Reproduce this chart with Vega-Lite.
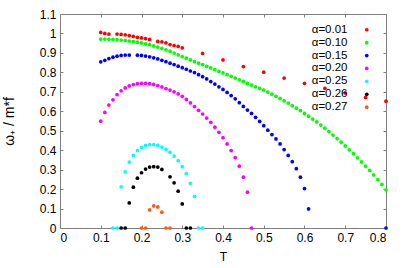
{
 "$schema": "https://vega.github.io/schema/vega-lite/v6.json",
 "width": 326, "height": 214,
 "autosize": "none",
 "padding": {"left": 60, "top": 14, "right": 23, "bottom": 40},
 "background": "white",
 "config": {
  "view": {"stroke": null},
  "font": "Liberation Sans",
  "axis": {"domainColor": "#808080", "tickColor": "#808080", "tickSize": -3, "labelColor": "#000", "labelFontSize": 12, "labelFont": "Liberation Sans", "grid": false, "titleFont": "Liberation Sans", "titleFontWeight": "normal", "titleFontSize": 12, "titleColor": "#000", "labelPadding": 7},
  "legend": {"orient": "none", "legendX": 301, "legendY": 10, "labelAlign": "right", "labelOffset": -25, "labelFontSize": 11.5, "labelFont": "Liberation Sans", "rowPadding": -0.1, "symbolSize": 14, "symbolType": "circle", "padding": 0, "symbolStrokeWidth": 0}
 },
 "data": {"values": [
  {"alpha":"0.01","T":0.10,"w":1.005},{"alpha":"0.01","T":0.11,"w":1.000},{"alpha":"0.01","T":0.12,"w":0.997},{"alpha":"0.01","T":0.14,"w":0.997},{"alpha":"0.01","T":0.15,"w":0.995},{"alpha":"0.01","T":0.16,"w":0.993},{"alpha":"0.01","T":0.17,"w":0.989},{"alpha":"0.01","T":0.18,"w":0.985},{"alpha":"0.01","T":0.19,"w":0.980},{"alpha":"0.01","T":0.20,"w":0.977},{"alpha":"0.01","T":0.21,"w":0.974},{"alpha":"0.01","T":0.22,"w":0.969},{"alpha":"0.01","T":0.24,"w":0.959},{"alpha":"0.01","T":0.25,"w":0.957},{"alpha":"0.01","T":0.26,"w":0.952},{"alpha":"0.01","T":0.27,"w":0.943},{"alpha":"0.01","T":0.28,"w":0.938},{"alpha":"0.01","T":0.29,"w":0.933},{"alpha":"0.01","T":0.30,"w":0.926},{"alpha":"0.01","T":0.35,"w":0.897},{"alpha":"0.01","T":0.40,"w":0.864},{"alpha":"0.01","T":0.45,"w":0.830},{"alpha":"0.01","T":0.50,"w":0.801},{"alpha":"0.01","T":0.55,"w":0.771},{"alpha":"0.01","T":0.60,"w":0.744},{"alpha":"0.01","T":0.65,"w":0.718},{"alpha":"0.01","T":0.70,"w":0.694},{"alpha":"0.01","T":0.75,"w":0.671},{"alpha":"0.01","T":0.80,"w":0.652},
  {"alpha":"0.10","T":0.10,"w":0.971},{"alpha":"0.10","T":0.11,"w":0.971},{"alpha":"0.10","T":0.12,"w":0.970},{"alpha":"0.10","T":0.13,"w":0.969},{"alpha":"0.10","T":0.14,"w":0.968},{"alpha":"0.10","T":0.15,"w":0.966},{"alpha":"0.10","T":0.16,"w":0.964},{"alpha":"0.10","T":0.17,"w":0.961},{"alpha":"0.10","T":0.18,"w":0.958},{"alpha":"0.10","T":0.19,"w":0.955},{"alpha":"0.10","T":0.20,"w":0.951},{"alpha":"0.10","T":0.21,"w":0.947},{"alpha":"0.10","T":0.22,"w":0.942},{"alpha":"0.10","T":0.23,"w":0.936},{"alpha":"0.10","T":0.24,"w":0.930},{"alpha":"0.10","T":0.25,"w":0.923},{"alpha":"0.10","T":0.26,"w":0.916},{"alpha":"0.10","T":0.27,"w":0.909},{"alpha":"0.10","T":0.28,"w":0.899},{"alpha":"0.10","T":0.29,"w":0.890},{"alpha":"0.10","T":0.30,"w":0.881},{"alpha":"0.10","T":0.31,"w":0.873},{"alpha":"0.10","T":0.32,"w":0.864},{"alpha":"0.10","T":0.33,"w":0.855},{"alpha":"0.10","T":0.34,"w":0.847},{"alpha":"0.10","T":0.35,"w":0.840},{"alpha":"0.10","T":0.36,"w":0.831},{"alpha":"0.10","T":0.37,"w":0.823},{"alpha":"0.10","T":0.38,"w":0.814},{"alpha":"0.10","T":0.39,"w":0.805},{"alpha":"0.10","T":0.40,"w":0.797},{"alpha":"0.10","T":0.41,"w":0.788},{"alpha":"0.10","T":0.42,"w":0.780},{"alpha":"0.10","T":0.43,"w":0.771},{"alpha":"0.10","T":0.44,"w":0.762},{"alpha":"0.10","T":0.45,"w":0.754},{"alpha":"0.10","T":0.46,"w":0.744},{"alpha":"0.10","T":0.47,"w":0.735},{"alpha":"0.10","T":0.48,"w":0.726},{"alpha":"0.10","T":0.49,"w":0.718},{"alpha":"0.10","T":0.50,"w":0.709},{"alpha":"0.10","T":0.51,"w":0.699},{"alpha":"0.10","T":0.52,"w":0.688},{"alpha":"0.10","T":0.53,"w":0.677},{"alpha":"0.10","T":0.54,"w":0.666},{"alpha":"0.10","T":0.55,"w":0.654},{"alpha":"0.10","T":0.56,"w":0.642},{"alpha":"0.10","T":0.57,"w":0.629},{"alpha":"0.10","T":0.58,"w":0.616},{"alpha":"0.10","T":0.59,"w":0.603},{"alpha":"0.10","T":0.60,"w":0.589},{"alpha":"0.10","T":0.61,"w":0.575},{"alpha":"0.10","T":0.62,"w":0.560},{"alpha":"0.10","T":0.63,"w":0.545},{"alpha":"0.10","T":0.64,"w":0.529},{"alpha":"0.10","T":0.65,"w":0.513},{"alpha":"0.10","T":0.66,"w":0.496},{"alpha":"0.10","T":0.67,"w":0.478},{"alpha":"0.10","T":0.68,"w":0.460},{"alpha":"0.10","T":0.69,"w":0.441},{"alpha":"0.10","T":0.70,"w":0.422},{"alpha":"0.10","T":0.71,"w":0.402},{"alpha":"0.10","T":0.72,"w":0.382},{"alpha":"0.10","T":0.73,"w":0.361},{"alpha":"0.10","T":0.74,"w":0.340},{"alpha":"0.10","T":0.75,"w":0.318},{"alpha":"0.10","T":0.76,"w":0.296},{"alpha":"0.10","T":0.77,"w":0.273},{"alpha":"0.10","T":0.78,"w":0.249},{"alpha":"0.10","T":0.79,"w":0.224},{"alpha":"0.10","T":0.80,"w":0.196},
  {"alpha":"0.15","T":0.10,"w":0.854},{"alpha":"0.15","T":0.11,"w":0.862},{"alpha":"0.15","T":0.12,"w":0.871},{"alpha":"0.15","T":0.13,"w":0.878},{"alpha":"0.15","T":0.14,"w":0.883},{"alpha":"0.15","T":0.15,"w":0.887},{"alpha":"0.15","T":0.16,"w":0.889},{"alpha":"0.15","T":0.17,"w":0.889},{"alpha":"0.15","T":0.19,"w":0.888},{"alpha":"0.15","T":0.20,"w":0.887},{"alpha":"0.15","T":0.21,"w":0.884},{"alpha":"0.15","T":0.22,"w":0.880},{"alpha":"0.15","T":0.23,"w":0.875},{"alpha":"0.15","T":0.24,"w":0.869},{"alpha":"0.15","T":0.25,"w":0.862},{"alpha":"0.15","T":0.26,"w":0.855},{"alpha":"0.15","T":0.27,"w":0.847},{"alpha":"0.15","T":0.28,"w":0.840},{"alpha":"0.15","T":0.29,"w":0.832},{"alpha":"0.15","T":0.30,"w":0.824},{"alpha":"0.15","T":0.31,"w":0.816},{"alpha":"0.15","T":0.32,"w":0.807},{"alpha":"0.15","T":0.33,"w":0.799},{"alpha":"0.15","T":0.34,"w":0.788},{"alpha":"0.15","T":0.35,"w":0.778},{"alpha":"0.15","T":0.36,"w":0.766},{"alpha":"0.15","T":0.37,"w":0.753},{"alpha":"0.15","T":0.38,"w":0.740},{"alpha":"0.15","T":0.39,"w":0.726},{"alpha":"0.15","T":0.40,"w":0.712},{"alpha":"0.15","T":0.41,"w":0.697},{"alpha":"0.15","T":0.42,"w":0.681},{"alpha":"0.15","T":0.43,"w":0.664},{"alpha":"0.15","T":0.44,"w":0.644},{"alpha":"0.15","T":0.45,"w":0.625},{"alpha":"0.15","T":0.46,"w":0.606},{"alpha":"0.15","T":0.47,"w":0.589},{"alpha":"0.15","T":0.48,"w":0.569},{"alpha":"0.15","T":0.49,"w":0.548},{"alpha":"0.15","T":0.50,"w":0.526},{"alpha":"0.15","T":0.51,"w":0.503},{"alpha":"0.15","T":0.52,"w":0.480},{"alpha":"0.15","T":0.53,"w":0.458},{"alpha":"0.15","T":0.54,"w":0.432},{"alpha":"0.15","T":0.55,"w":0.403},{"alpha":"0.15","T":0.56,"w":0.373},{"alpha":"0.15","T":0.57,"w":0.341},{"alpha":"0.15","T":0.58,"w":0.305},{"alpha":"0.15","T":0.59,"w":0.261},{"alpha":"0.15","T":0.60,"w":0.203},{"alpha":"0.15","T":0.61,"w":0.098},{"alpha":"0.15","T":0.80,"w":0},
  {"alpha":"0.20","T":0.10,"w":0.549},{"alpha":"0.20","T":0.11,"w":0.594},{"alpha":"0.20","T":0.12,"w":0.632},{"alpha":"0.20","T":0.13,"w":0.659},{"alpha":"0.20","T":0.14,"w":0.685},{"alpha":"0.20","T":0.15,"w":0.705},{"alpha":"0.20","T":0.16,"w":0.720},{"alpha":"0.20","T":0.17,"w":0.730},{"alpha":"0.20","T":0.18,"w":0.737},{"alpha":"0.20","T":0.19,"w":0.742},{"alpha":"0.20","T":0.20,"w":0.744},{"alpha":"0.20","T":0.21,"w":0.744},{"alpha":"0.20","T":0.22,"w":0.742},{"alpha":"0.20","T":0.23,"w":0.738},{"alpha":"0.20","T":0.24,"w":0.732},{"alpha":"0.20","T":0.25,"w":0.725},{"alpha":"0.20","T":0.26,"w":0.717},{"alpha":"0.20","T":0.27,"w":0.709},{"alpha":"0.20","T":0.28,"w":0.700},{"alpha":"0.20","T":0.29,"w":0.689},{"alpha":"0.20","T":0.30,"w":0.677},{"alpha":"0.20","T":0.31,"w":0.661},{"alpha":"0.20","T":0.32,"w":0.643},{"alpha":"0.20","T":0.33,"w":0.624},{"alpha":"0.20","T":0.34,"w":0.605},{"alpha":"0.20","T":0.35,"w":0.586},{"alpha":"0.20","T":0.36,"w":0.565},{"alpha":"0.20","T":0.37,"w":0.543},{"alpha":"0.20","T":0.38,"w":0.518},{"alpha":"0.20","T":0.39,"w":0.492},{"alpha":"0.20","T":0.40,"w":0.464},{"alpha":"0.20","T":0.41,"w":0.432},{"alpha":"0.20","T":0.42,"w":0.398},{"alpha":"0.20","T":0.43,"w":0.362},{"alpha":"0.20","T":0.44,"w":0.318},{"alpha":"0.20","T":0.45,"w":0.261},{"alpha":"0.20","T":0.46,"w":0.184},{"alpha":"0.20","T":0.47,"w":0},
  {"alpha":"0.25","T":0.13,"w":0},{"alpha":"0.25","T":0.14,"w":0},{"alpha":"0.25","T":0.15,"w":0.212},{"alpha":"0.25","T":0.16,"w":0.289},{"alpha":"0.25","T":0.17,"w":0.339},{"alpha":"0.25","T":0.18,"w":0.373},{"alpha":"0.25","T":0.19,"w":0.398},{"alpha":"0.25","T":0.20,"w":0.415},{"alpha":"0.25","T":0.21,"w":0.425},{"alpha":"0.25","T":0.22,"w":0.429},{"alpha":"0.25","T":0.23,"w":0.429},{"alpha":"0.25","T":0.24,"w":0.425},{"alpha":"0.25","T":0.25,"w":0.416},{"alpha":"0.25","T":0.26,"w":0.404},{"alpha":"0.25","T":0.27,"w":0.389},{"alpha":"0.25","T":0.28,"w":0.370},{"alpha":"0.25","T":0.29,"w":0.346},{"alpha":"0.25","T":0.30,"w":0.315},{"alpha":"0.25","T":0.31,"w":0.279},{"alpha":"0.25","T":0.32,"w":0.230},{"alpha":"0.25","T":0.33,"w":0.162},{"alpha":"0.25","T":0.34,"w":0},{"alpha":"0.25","T":0.35,"w":0},
  {"alpha":"0.26","T":0.15,"w":0},{"alpha":"0.26","T":0.16,"w":0},{"alpha":"0.26","T":0.17,"w":0.129},{"alpha":"0.26","T":0.18,"w":0.210},{"alpha":"0.26","T":0.19,"w":0.256},{"alpha":"0.26","T":0.20,"w":0.284},{"alpha":"0.26","T":0.21,"w":0.303},{"alpha":"0.26","T":0.22,"w":0.313},{"alpha":"0.26","T":0.23,"w":0.315},{"alpha":"0.26","T":0.24,"w":0.313},{"alpha":"0.26","T":0.25,"w":0.301},{"alpha":"0.26","T":0.27,"w":0.263},{"alpha":"0.26","T":0.28,"w":0.232},{"alpha":"0.26","T":0.29,"w":0.189},{"alpha":"0.26","T":0.30,"w":0.124},{"alpha":"0.26","T":0.31,"w":0},{"alpha":"0.26","T":0.32,"w":0},
  {"alpha":"0.27","T":0.20,"w":0},{"alpha":"0.27","T":0.21,"w":0},{"alpha":"0.27","T":0.22,"w":0.093},{"alpha":"0.27","T":0.23,"w":0.114},{"alpha":"0.27","T":0.24,"w":0.108},{"alpha":"0.27","T":0.25,"w":0.081},{"alpha":"0.27","T":0.26,"w":0},{"alpha":"0.27","T":0.27,"w":0}
 ]},
 "layer": [
  {"mark": {"type": "circle", "size": 14, "opacity": 1},
   "encoding": {
    "x": {"field": "T", "type": "quantitative", "scale": {"domain": [0, 0.8], "nice": false, "zero": false},
          "axis": {"orient": "bottom", "values": [0,0.1,0.2,0.3,0.4,0.5,0.6,0.7,0.8], "format": "~g", "title": "T", "titlePadding": 8}},
    "y": {"field": "w", "type": "quantitative", "scale": {"domain": [0, 1.1], "nice": false},
          "axis": {"orient": "left", "values": [0,0.1,0.2,0.3,0.4,0.5,0.6,0.7,0.8,0.9,1,1.1], "format": "~g", "title": "ω₊ / m*f", "titleFontSize": 14, "titlePadding": 23}},
    "color": {"field": "alpha", "type": "nominal",
              "scale": {"domain": ["0.01","0.10","0.15","0.20","0.25","0.26","0.27"], "range": ["#ff0000","#00ff00","#0000ff","#ff00ff","#00ffff","#000000","#ff5a14"]},
              "legend": {"title": null, "labelExpr": "'α=' + datum.label"}}
   }},
  {"mark": {"type": "circle", "size": 14, "opacity": 0},
   "encoding": {
    "x": {"field": "T", "type": "quantitative", "axis": {"orient": "top", "values": [0,0.1,0.2,0.3,0.4,0.5,0.6,0.7,0.8], "labels": false, "title": null, "domainColor": "#808080", "tickColor": "#808080", "tickSize": -3}},
    "y": {"field": "w", "type": "quantitative", "axis": {"orient": "right", "values": [0,0.1,0.2,0.3,0.4,0.5,0.6,0.7,0.8,0.9,1,1.1], "labels": false, "title": null, "domainColor": "#808080", "tickColor": "#808080", "tickSize": -3}}
   }}
 ],
 "resolve": {"axis": {"x": "independent", "y": "independent"}}
}
